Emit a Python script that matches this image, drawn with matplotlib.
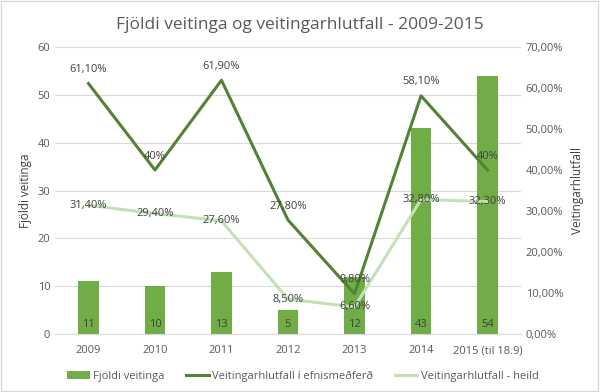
import matplotlib.pyplot as plt
from matplotlib.patches import Rectangle

years = ['2009', '2010', '2011', '2012', '2013', '2014', '2015 (til 18.9)']
fjoldi = [11, 10, 13, 5, 12, 43, 54]
efnis = [61.1, 40, 61.9, 27.8, 9.8, 58.1, 40]
efnis_lbl = ['61,10%', '40%', '61,90%', '27,80%', '9,80%', '58,10%', '40%']
heild = [31.4, 29.4, 27.6, 8.5, 6.6, 32.8, 32.3]
heild_lbl = ['31,40%', '29,40%', '27,60%', '8,50%', '6,60%', '32,80%', '32,30%']

plt.rcParams['font.family'] = ['Open Sans', 'DejaVu Sans']
grey = '#595959'

fig = plt.figure(figsize=(6, 3.92), dpi=100)
ax = fig.add_axes([0.092, 0.148, 0.776, 0.732])
x = list(range(len(years)))

bars = ax.bar(x, fjoldi, width=0.31, color='#70AD47', zorder=2,
              label='Fjöldi veitinga')
for xi, v in zip(x, fjoldi):
    ax.text(xi, 0.8, str(v), ha='center', va='bottom', fontsize=8, color='#404040', zorder=5)

ax.set_ylim(0, 60)
ax.set_xlim(-0.5, len(years) - 0.5)
ax.set_yticks(range(0, 61, 10))
ax.grid(axis='y', color='#d9d9d9', linewidth=0.8, zorder=0)
ax.set_ylabel('Fjöldi veitinga', fontsize=8.5, color='#404040')
ax.set_xticks(x)
ax.set_xticklabels(years)

ax2 = ax.twinx()
ax2.set_ylim(0, 70)
ax2.set_yticks(range(0, 71, 10))
ax2.set_yticklabels([f'{t},00%' for t in range(0, 71, 10)])
ax2.set_ylabel('Veitingarhlutfall', fontsize=8.5, color='#404040', labelpad=6)

l1, = ax2.plot(x, efnis, color='#548235', linewidth=2.2, zorder=3,
               label='Veitingarhlutfall í efnismeðferð')
l2, = ax2.plot(x, heild, color='#C5E0B4', linewidth=2.2, zorder=3,
               label='Veitingarhlutfall - heild')
for xi, v, s in zip(x, efnis, efnis_lbl):
    ax2.annotate(s, (xi, v), xytext=(0, 10), textcoords='offset points',
                 ha='center', va='center', fontsize=8, color='#404040')
for xi, v, s in zip(x, heild, heild_lbl):
    ax2.text(xi, v, s, ha='center', va='center', fontsize=8, color='#404040')

for a in (ax, ax2):
    for sp in a.spines.values():
        sp.set_visible(False)
    a.tick_params(length=0, labelsize=8, labelcolor=grey)
ax.spines['bottom'].set_visible(True)
ax.spines['bottom'].set_color('#d9d9d9')
ax.tick_params(axis='x', pad=8)

fig.suptitle('Fjöldi veitinga og veitingarhlutfall - 2009-2015', y=0.957,
             fontsize=12.5, color='#595959')
fig.legend(handles=[bars, l1, l2], loc='center', bbox_to_anchor=(0.505, 0.04),
           ncol=3, frameon=False, fontsize=8, labelcolor=grey,
           handlelength=2.0, handletextpad=0.3, columnspacing=2.0)
fig.patches.append(Rectangle((0.002, 0.003), 0.995, 0.994, transform=fig.transFigure,
                             fill=False, edgecolor='#d9d9d9', linewidth=1))

fig.savefig('out.png', dpi=100)
